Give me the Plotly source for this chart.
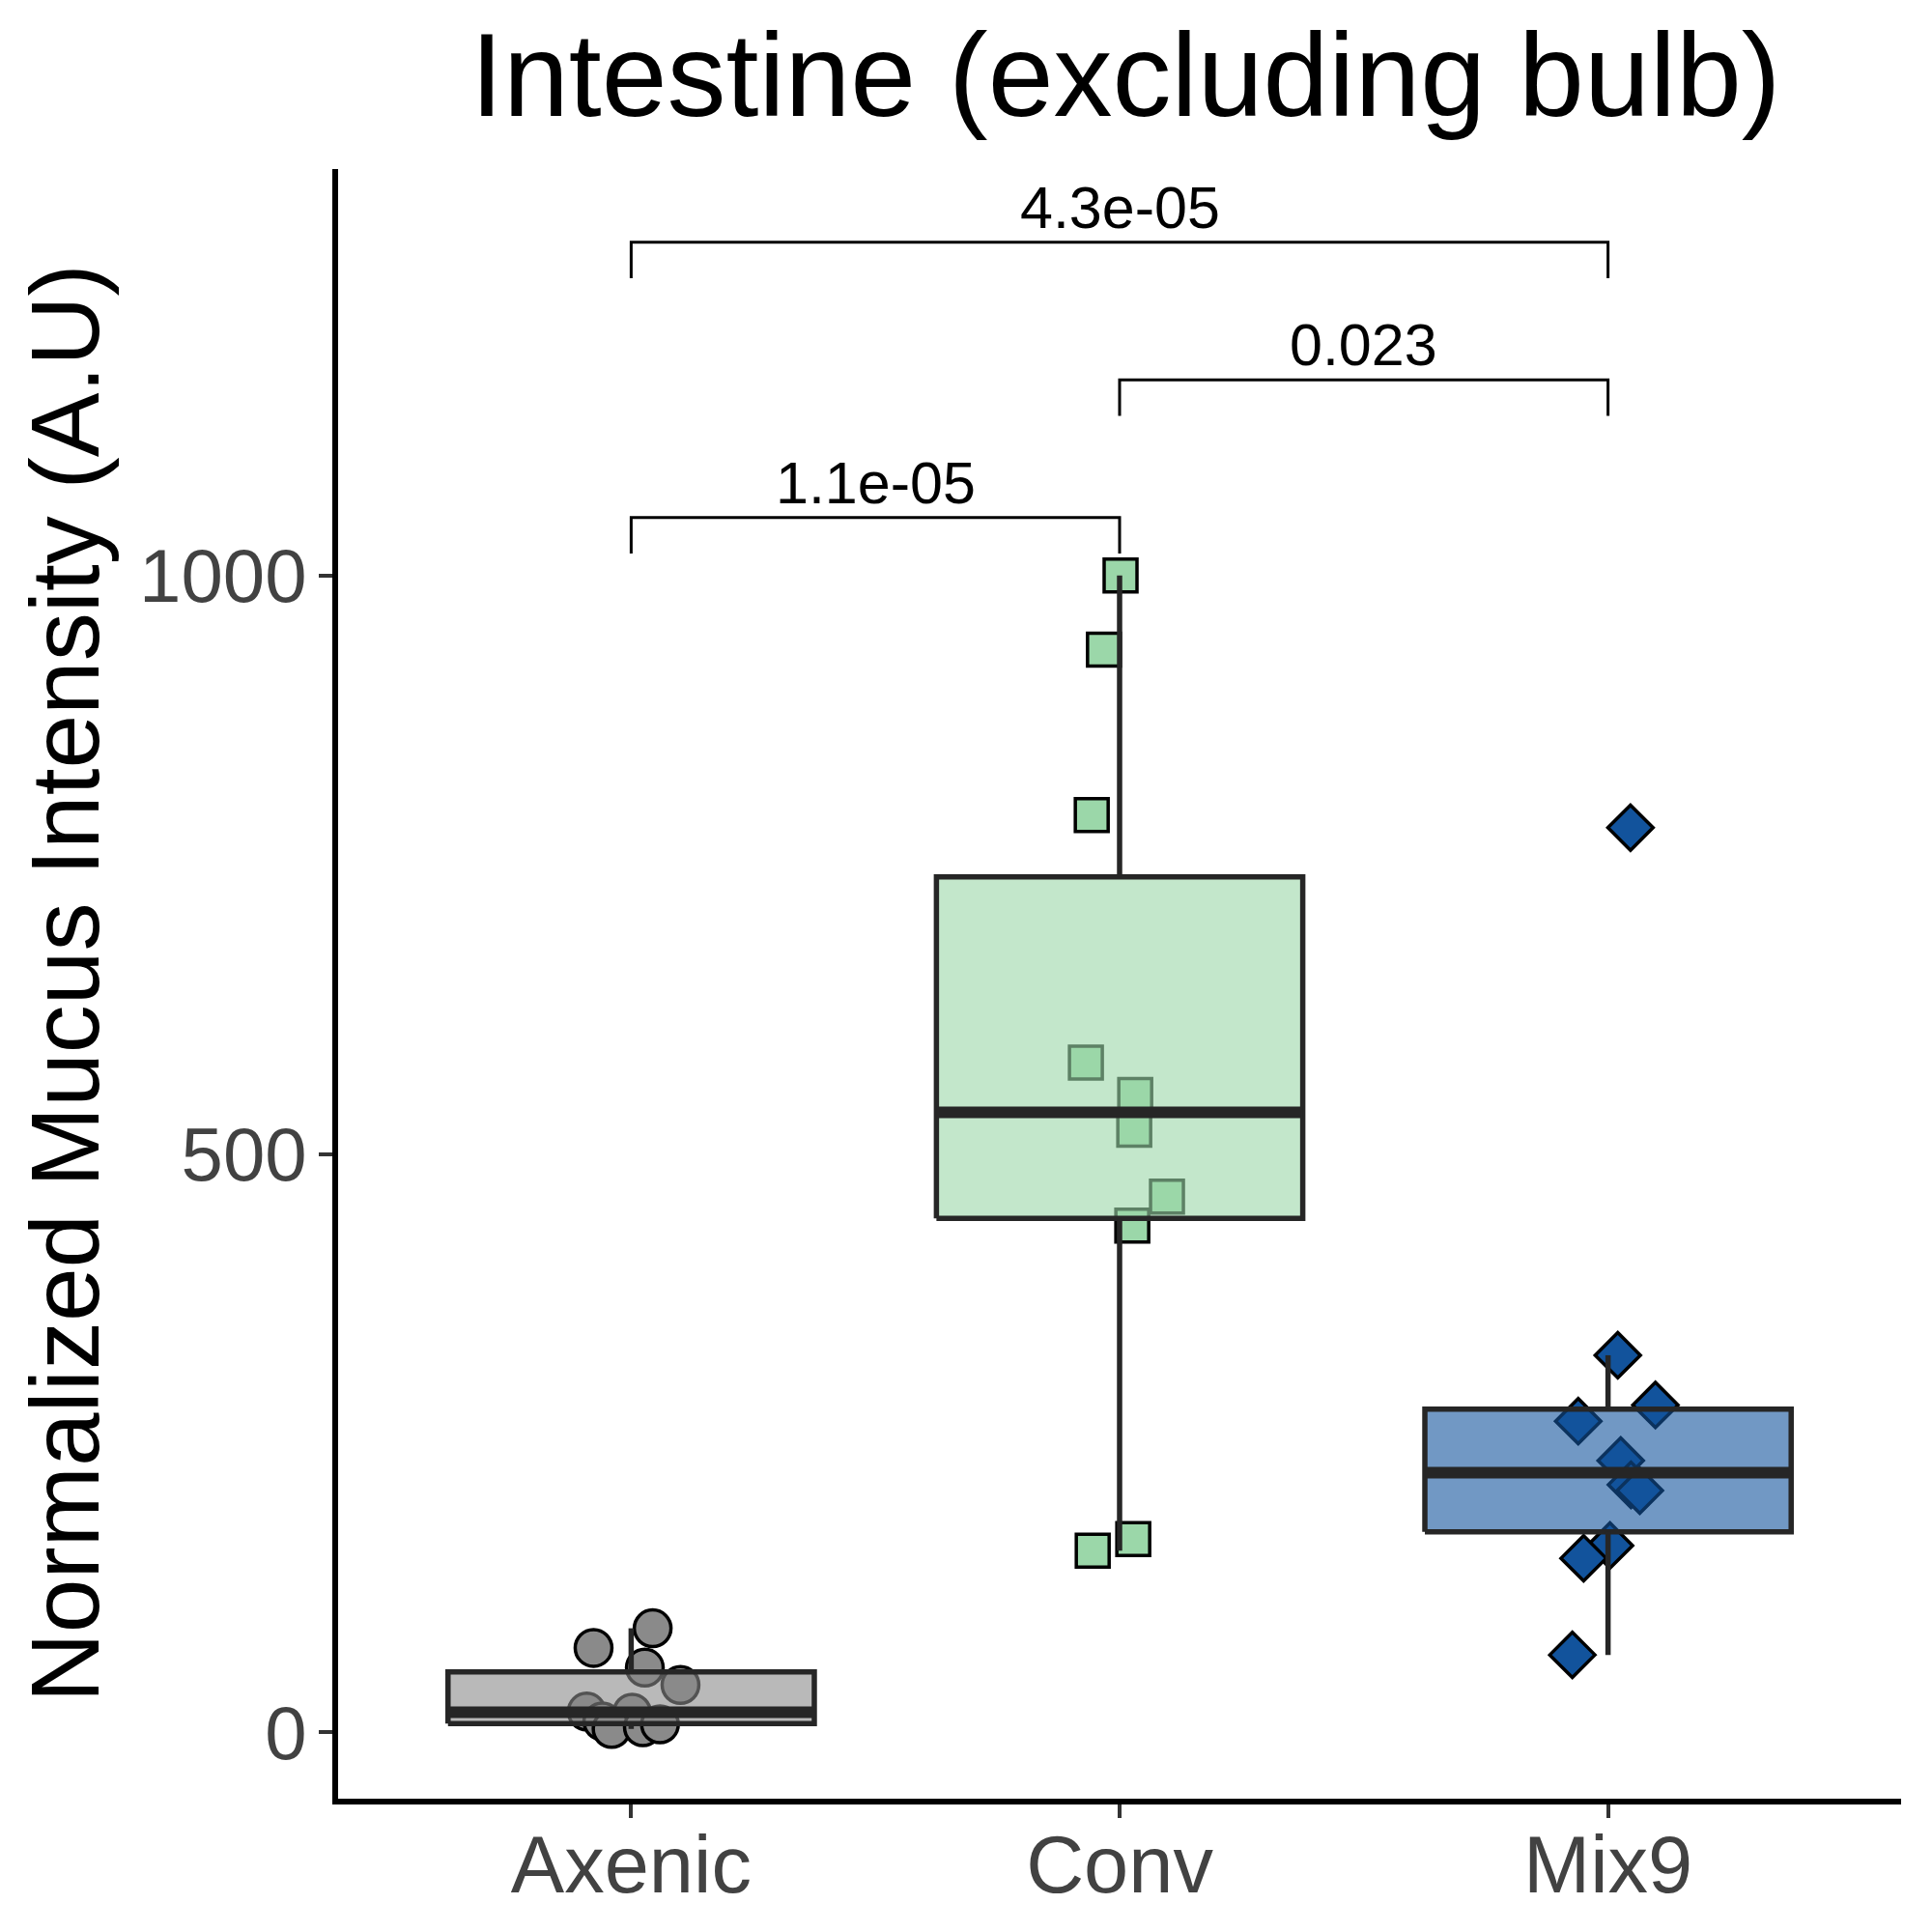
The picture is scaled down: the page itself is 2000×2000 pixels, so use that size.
import numpy as np
import plotly.graph_objects as go

# ---------------- data ----------------
categories = ["Axenic", "Conv", "Mix9"]

axenic_vals = [73, 90, 56, 41, 18, 17, 9.5, 3, 4.5, 7]
conv_vals = [1000, 936, 793, 579, 551, 521, 463, 438, 167, 157]
mix9_vals = [326, 283, 269, 235, 214, 209, 161.5, 150.5, 67, 782]

# horizontal jitter (category units)
axenic_jitter = [-0.077, 0.044, 0.028, 0.101, -0.091, 0.002, -0.059, -0.040, 0.024, 0.059]
conv_jitter = [0.002, -0.032, -0.057, -0.069, 0.032, 0.030, 0.097, 0.026, 0.028, -0.055]
mix9_jitter = [0.020, 0.097, -0.061, 0.026, 0.047, 0.065, 0.004, -0.050, -0.073, 0.046]

# pairwise comparisons: (group a, group b, p label, bracket level)
comp_a = [0, 1, 0]
comp_b = [1, 2, 2]
comp_labels = ["1.1e-05", "0.023", "4.3e-05"]
comp_levels = [1050, 1169, 1288]
tip_len = 31

y_ticks = [0, 500, 1000]

# ---------------- styling ----------------
point_colors = ["#8A8A8A", "#9BD7A9", "#12539C"]
symbols = ["circle", "square", "diamond"]
msizes = [38, 34, 36]
box_alpha = 0.6
box_w = 0.75
edge = "#262626"
FONT = "Liberation Sans, Arial, Helvetica, sans-serif"


def rgba(hexc, a):
    h = hexc.lstrip("#")
    r, g, b = int(h[0:2], 16), int(h[2:4], 16), int(h[4:6], 16)
    return f"rgba({r},{g},{b},{a})"


groups = [axenic_vals, conv_vals, mix9_vals]
jitters = [axenic_jitter, conv_jitter, mix9_jitter]

fig = go.Figure()

for i, (vals, jit) in enumerate(zip(groups, jitters)):
    pos = i + 1
    v = np.array(vals, dtype=float)
    q1, med, q3 = np.percentile(v, [25, 50, 75])
    iqr = q3 - q1
    upper = v[v <= q3 + 1.5 * iqr].max()
    lower = v[v >= q1 - 1.5 * iqr].min()

    # jittered points (drawn first, box goes over them)
    fig.add_trace(go.Scatter(
        x=[pos + j for j in jit], y=vals, mode="markers",
        marker=dict(symbol=symbols[i], size=msizes[i], color=point_colors[i],
                    line=dict(color="black", width=3.5)),
        showlegend=False, hoverinfo="skip"))

    # box body
    x0, x1 = pos - box_w / 2, pos + box_w / 2
    fig.add_trace(go.Scatter(
        x=[x0, x1, x1, x0, x0], y=[q1, q1, q3, q3, q1], mode="lines",
        fill="toself", fillcolor=rgba(point_colors[i], box_alpha),
        line=dict(color=edge, width=5.5), showlegend=False, hoverinfo="skip"))
    # whiskers
    fig.add_trace(go.Scatter(
        x=[pos, pos, None, pos, pos], y=[upper, q3, None, q1, lower], mode="lines",
        line=dict(color=edge, width=5.5), showlegend=False, hoverinfo="skip"))
    # median
    fig.add_trace(go.Scatter(
        x=[x0, x1], y=[med, med], mode="lines",
        line=dict(color=edge, width=12), showlegend=False, hoverinfo="skip"))

# significance brackets
annotations = []
for a, b, lab, lev in zip(comp_a, comp_b, comp_labels, comp_levels):
    xa, xb = a + 1, b + 1
    fig.add_trace(go.Scatter(
        x=[xa, xa, xb, xb], y=[lev - tip_len, lev, lev, lev - tip_len], mode="lines",
        line=dict(color="black", width=3), showlegend=False, hoverinfo="skip"))
    annotations.append(dict(
        x=(xa + xb) / 2, y=lev, xref="x", yref="y", text=lab, showarrow=False,
        xanchor="center", yanchor="bottom", yshift=0,
        font=dict(family=FONT, size=61, color="black")))

annotations.append(dict(
    x=0.5037, y=1.0575, xref="paper", yref="paper", text="Intestine (excluding bulb)",
    showarrow=False, xanchor="center", yanchor="middle",
    font=dict(family=FONT, size=122, color="black")))
annotations.append(dict(
    x=-0.1755, y=0.5, xref="paper", yref="paper", text="Normalized Mucus Intensity (A.U)",
    showarrow=False, xanchor="center", yanchor="middle", textangle=-90,
    font=dict(family=FONT, size=100, color="black")))

fig.update_layout(
    width=2000, height=2000,
    margin=dict(l=350, r=32, t=175, b=138),
    plot_bgcolor="white", paper_bgcolor="white",
    showlegend=False,
    annotations=annotations,
    xaxis=dict(range=[0.4, 3.6], tickvals=[1, 2, 3], ticktext=categories,
               automargin=False,
               showgrid=False, zeroline=False, showline=True, linecolor="black",
               linewidth=5.5, ticks="outside", ticklen=14, tickwidth=4, tickcolor="#333333",
               ticklabelstandoff=-22,
               tickfont=dict(family=FONT, size=83, color="#424242")),
    yaxis=dict(range=[-57.3, 1351.3], tickvals=y_ticks,
               automargin=False,
               showgrid=False, zeroline=False, showline=True, linecolor="black",
               linewidth=5.5, ticks="outside", ticklen=14, tickwidth=4, tickcolor="#333333",
               ticklabelstandoff=-3,
               tickfont=dict(family=FONT, size=78, color="#424242")),
)

fig.write_html("out.html")
